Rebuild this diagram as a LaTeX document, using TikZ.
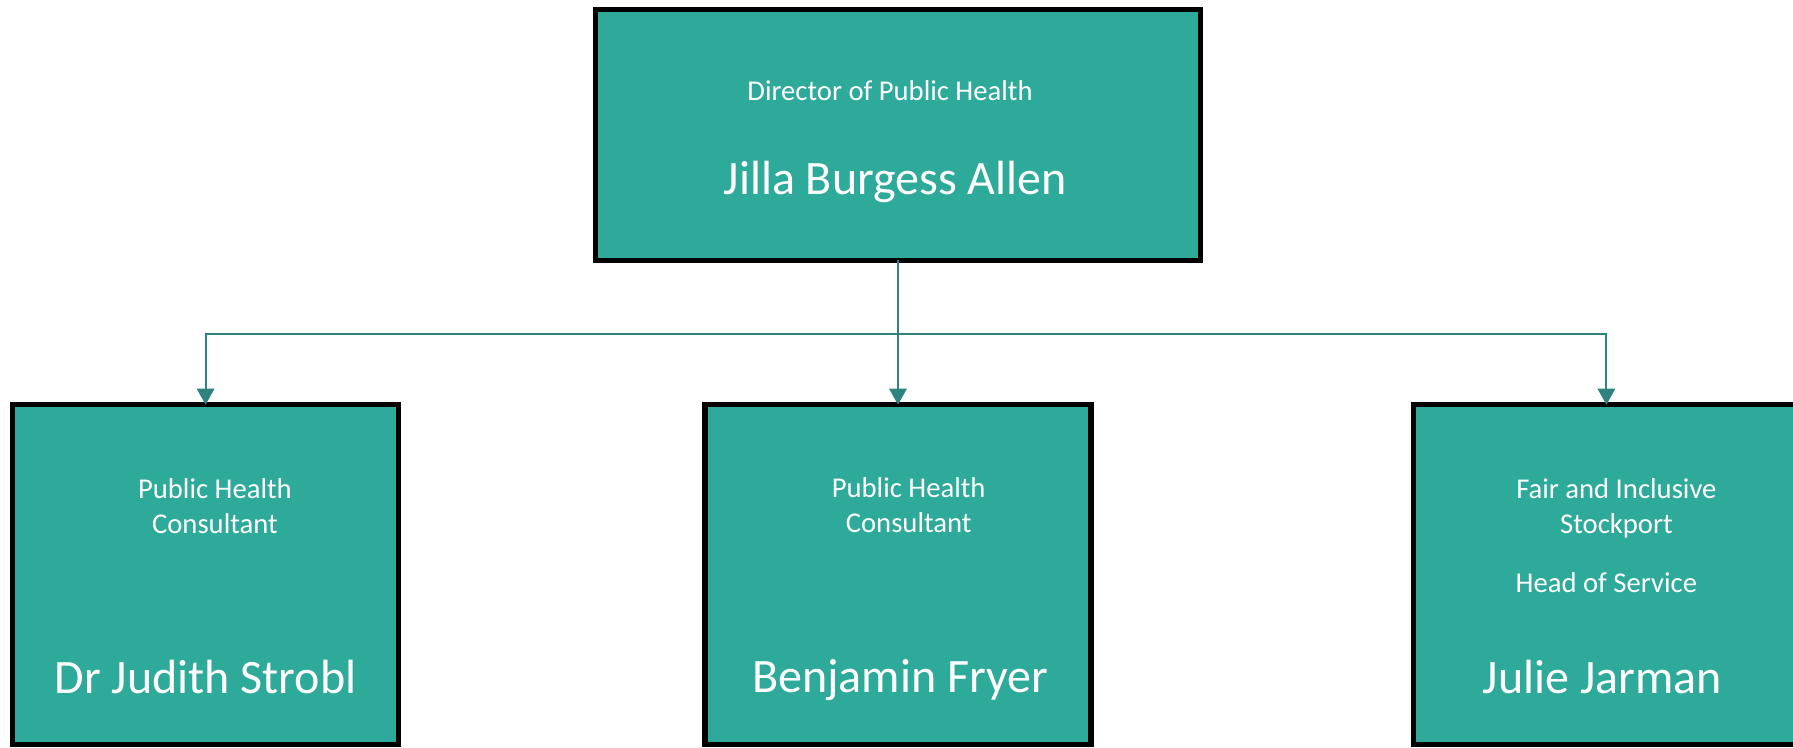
\documentclass[tikz,border=0pt]{standalone}
\usepackage{fontspec}
\setmainfont{Carlito}
\usetikzlibrary{positioning,arrows.meta}
\definecolor{phteal}{RGB}{46,170,155}
\definecolor{phline}{RGB}{47,131,126}

\begin{document}
\begin{tikzpicture}[x=0.75pt, y=-0.75pt,
  staffbox/.style={rectangle, draw=black, line width=4pt, fill=phteal, inner sep=0pt, outer sep=0pt, minimum width=289.5pt, minimum height=255pt},
  roletext/.style={text=white, inner sep=0pt, align=center, font=\fontsize{21.5}{26}\selectfont, anchor=base},
  nametext/.style={text=white, inner sep=0pt, font=\fontsize{36}{43}\selectfont, anchor=base},
  link/.style={draw=phline, line width=1.5pt, -{Triangle[width=13pt,length=12pt]}}]

\useasboundingbox (0,0) rectangle (1793,748);

% Директор
\node (dph) [staffbox, minimum width=453.5pt, minimum height=188pt] at (898,135) {};
\node (dphrole) [below=68.5pt of dph.north, xshift=-6pt, roletext] {Director of Public Health};
\node (dphname) [below=138.5pt of dph.north, xshift=-2pt, nametext] {Jilla Burgess Allen};

% Консультанты
\node (cons2) [staffbox, below=108.3pt of dph] {};
\node (cons1) [staffbox, left=229.8pt of cons2] {};
\node (cons3) [staffbox, right=241.8pt of cons2] {};

\node (cons1role) [below=96.5pt of cons1.north, xshift=7pt, roletext] {Public Health\\Consultant};
\node (cons1name) [below=216.5pt of cons1.north, nametext] {Dr Judith Strobl};

\node (cons2role) [below=95.7pt of cons2.north, xshift=8pt, roletext] {Public Health\\Consultant};
\node (cons2name) [below=215.7pt of cons2.north, xshift=1.5pt, nametext] {Benjamin Fryer};

\node (cons3role) [below=96.5pt of cons3.north, xshift=7.5pt, roletext] {Fair and Inclusive\\Stockport};
\node (cons3head) [below=140.7pt of cons3.north, roletext] {Head of Service};
\node (cons3name) [below=216.5pt of cons3.north, xshift=-3pt, nametext] {Julie Jarman};

% Связи
\coordinate (bus) at ([yshift=-55.3pt]dph.south);
\draw[link] (dph.south) -- (cons2.north);
\draw[link] (bus) -| (cons1.north);
\draw[link] (bus) -| (cons3.north);

\end{tikzpicture}
\end{document}
